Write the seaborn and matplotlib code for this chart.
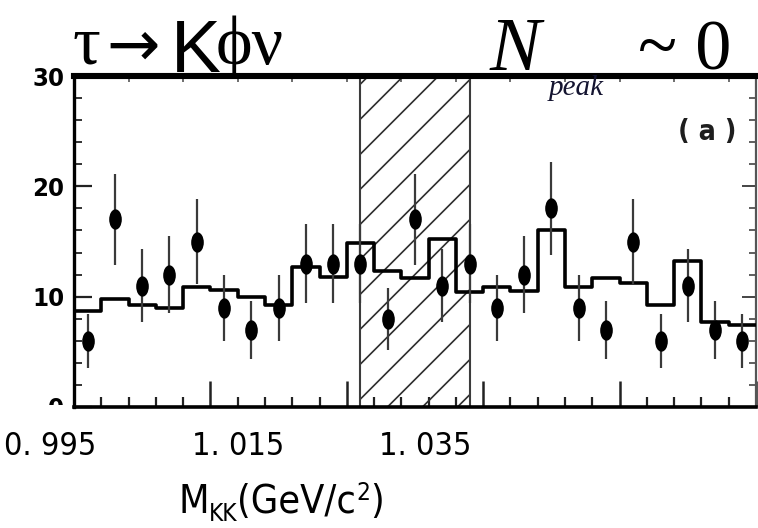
import os
import numpy as np
import pandas as pd
import matplotlib
matplotlib.use("Agg")
import matplotlib.pyplot as plt
import seaborn as sns
from matplotlib import font_manager
from matplotlib.font_manager import FontProperties
from matplotlib.path import Path
from matplotlib.transforms import Affine2D
from matplotlib.patches import Rectangle
from matplotlib.ticker import FixedLocator, NullFormatter

# ---- data -------------------------------------------------------------
# M_KK binning in GeV/c^2
bin_lo = 0.995
bin_width = 0.002
n_bins = 25

# observed candidates per bin
data_counts = [6, 17, 11, 12, 15, 9, 7, 9, 13, 13, 13, 8, 17,
               11, 13, 9, 12, 18, 9, 7, 15, 6, 11, 7, 6]
# expected background per bin
bkg_counts = [8.7, 9.8, 9.2, 9.0, 10.9, 10.6, 10.0, 9.2, 12.7, 11.8, 14.9, 12.3, 11.7,
              15.2, 10.4, 10.9, 10.5, 16.0, 10.9, 11.7, 11.2, 9.2, 13.2, 7.7, 7.4]

# phi signal window
signal_window = (1.016, 1.024)

x_tick_labels = ["0. 995", "1. 015", "1. 035"]
y_tick_values = [0, 10, 20, 30]
y_tick_labels = ["0", "10", "20", "30"]

bin_edges = bin_lo + bin_width * np.arange(n_bins + 1)
bin_centers = 0.5 * (bin_edges[:-1] + bin_edges[1:])
df = pd.DataFrame({"m": bin_centers, "data": data_counts, "bkg": bkg_counts})

# ---- fonts ------------------------------------------------------------
sns.set_style("white")
SERIF = ["Liberation Serif", "DejaVu Serif"]
plt.rcParams["font.family"] = ["Liberation Sans", "DejaVu Sans"]


def narrow_font(bold):
    """Return the file of the narrowest suitable sans face installed, if any."""
    prefs = ["liberation sans narrow", "dejavu sans", "roboto", "noto sans",
             "open sans", "lato", "inter", "liberation sans"]
    best = None
    for f in font_manager.fontManager.ttflist:
        base = os.path.basename(f.fname).lower()
        name = f.name.lower()
        if "mono" in base or "mono" in name or "serif" in name or "cjk" in name:
            continue
        narrowish = ("narrow" in base or "condensed" in base or "narrow" in name
                     or "condensed" in name or f.stretch in ("condensed", "semi-condensed"))
        if not narrowish or "extra" in base or "ultra" in base:
            continue
        try:
            w = int(f.weight)
        except (TypeError, ValueError):
            w = 700 if "bold" in str(f.weight) else 400
        if bold and w != 700:
            continue
        if not bold and w != 400:
            continue
        if f.style != "normal" or "italic" in base or "oblique" in base:
            continue
        fam = next((i for i, p in enumerate(prefs) if name.startswith(p)), len(prefs))
        semi = 1 if "semi" in base or f.stretch == "semi-condensed" else 0
        key = (fam, semi)
        if best is None or key < best[0]:
            best = (key, f.fname)
    return best[1] if best is not None else None


NARROW_REG = narrow_font(False)
NARROW_BOLD = narrow_font(True)


def fp_narrow(size, bold=False):
    path = NARROW_BOLD if bold else NARROW_REG
    if path:
        return FontProperties(fname=path, size=size)
    return FontProperties(family=["Liberation Sans", "DejaVu Sans"], size=size,
                          weight="bold" if bold else "normal")


# ---- figure -----------------------------------------------------------
W, H = 758, 528
fig = plt.figure(figsize=(W / 100, H / 100), dpi=100)
fig.patch.set_facecolor("white")
ax = fig.add_axes([74 / W, 1 - 407 / H, (756 - 74) / W, (407 - 76) / H])
renderer = fig.canvas.get_renderer()

# background expectation histogram
sns.histplot(data=df, x="m", weights="bkg", binwidth=bin_width,
             binrange=(bin_edges[0], bin_edges[-1]), element="step",
             fill=False, color="black", linewidth=2.6, ax=ax, zorder=3)

# data points with Poisson errors
ax.errorbar(df["m"], df["data"], yerr=np.sqrt(df["data"]), fmt="none",
            ecolor="#3a3a3a", elinewidth=1.6, capsize=0, zorder=3)
ellipse = Path.unit_circle().transformed(Affine2D().scale(0.62, 1.0))
sns.scatterplot(data=df, x="m", y="data", marker=ellipse, s=215, color="black",
                edgecolor="black", linewidth=0, ax=ax, zorder=4, legend=False)

ax.set_xlim(bin_edges[0], bin_edges[-1])
ax.set_ylim(0, 30)

# hatched signal window
span = ax.axvspan(*signal_window, facecolor="none", edgecolor="none", zorder=1)
for xv in signal_window:
    ax.axvline(xv, color="#3c3c3c", lw=1.5, zorder=2)
bb = ax.get_position()
px_x = bb.width * W / (bin_edges[-1] - bin_edges[0])
px_y = bb.height * H / 30.0
slope = px_x / px_y            # 45 degrees on screen
step = 35.0 / px_y             # 35 px between hatch lines (vertical)
for y0 in np.arange(26.1 - 20 * step, 31, step):
    ln = ax.axline((signal_window[0], y0), slope=slope, color="#2e2e2e", lw=1.2, zorder=1)
    ln.set_clip_path(span)

ax.set_xlabel("")
ax.set_ylabel("")

# ---- frame and ticks --------------------------------------------------
for side, lw, col in [("top", 4.4, "black"), ("left", 2.4, "black"),
                      ("bottom", 2.6, "black"), ("right", 1.6, "#555555")]:
    ax.spines[side].set_linewidth(lw)
    ax.spines[side].set_color(col)
    ax.spines[side].set_visible(True)

ax.xaxis.set_major_locator(FixedLocator(bin_edges[::5]))
ax.xaxis.set_minor_locator(FixedLocator(bin_edges))
ax.xaxis.set_major_formatter(NullFormatter())
ax.tick_params(axis="x", which="major", direction="in", length=19, width=1.8,
               color="#222222", bottom=True, top=False)
ax.tick_params(axis="x", which="minor", direction="in", length=7.5, width=1.6,
               color="#222222", bottom=True, top=False)

ax.yaxis.set_major_locator(FixedLocator(y_tick_values))
ax.yaxis.set_minor_locator(FixedLocator(np.arange(0, 31, 2)))
ax.set_yticklabels(y_tick_labels)
ax.tick_params(axis="y", which="major", direction="in", length=13, width=1.6,
               color="#222222", left=True, right=False, pad=7)
ax.tick_params(axis="y", which="minor", direction="in", length=6, width=1.4,
               color="#333333", left=True, right=False)

# size the y labels so that "20" is about 32 px wide and at most 23 px tall
probe = fig.text(0, 0, "20", fontproperties=fp_narrow(20, bold=True))
w20 = probe.get_window_extent(renderer).width
probe.remove()
ysize = min(23.0, 20.0 * 32.0 / w20)
for lab in ax.get_yticklabels():
    lab.set_fontproperties(fp_narrow(ysize, bold=True))
    lab.set_color("black")
    lab.set_va("center_baseline")

top = ax.secondary_xaxis("top")
top.set_xticks(bin_edges[::2])
top.xaxis.set_major_formatter(NullFormatter())
top.tick_params(direction="in", length=4, width=1.2, color="#555555")
top.spines["top"].set_visible(False)

right = ax.secondary_yaxis("right")
right.yaxis.set_major_locator(FixedLocator([10, 20]))
right.yaxis.set_minor_locator(FixedLocator(np.arange(0, 31, 2)))
right.yaxis.set_major_formatter(NullFormatter())
right.tick_params(which="major", direction="in", length=10, width=1.4, color="#444444")
right.tick_params(which="minor", direction="in", length=5, width=1.2, color="#444444")
right.spines["right"].set_visible(False)

# white band under the frame
fig.add_artist(Rectangle((0, 0), 71 / W, (H - 405) / H, transform=fig.transFigure,
                         facecolor="white", edgecolor="none", zorder=5))


def ftext(x, y, s, **kw):
    """Place text using pixel coordinates measured from the top-left corner."""
    kw.setdefault("va", "baseline")
    kw.setdefault("zorder", 6)
    return fig.text(x / W, 1 - y / H, s, **kw)


def fitted(x, y, s, width, max_size, bold=False, **kw):
    """Narrow text scaled to span `width` px, never above `max_size` pt."""
    t = ftext(x, y, s, fontproperties=fp_narrow(20, bold), **kw)
    w = t.get_window_extent(renderer).width
    t.set_fontproperties(fp_narrow(min(max_size, 20.0 * width / w), bold))
    return t


def run(x, y, pieces, width, max_size):
    """Lay out (text, scale, raise_px) pieces left to right, fitted to `width`."""
    def build(size):
        arts, cx = [], x
        for s, sc, dy in pieces:
            t = ftext(cx, y - dy * size / max_size, s, fontproperties=fp_narrow(size * sc),
                      color="black")
            cx += t.get_window_extent(renderer).width
            arts.append(t)
        return arts, cx - x
    arts, tw = build(max_size)
    size = min(max_size, max_size * width / tw)
    for a in arts:
        a.remove()
    build(size)


# ---- titles -----------------------------------------------------------
ftext(73, 64, "τ", family=SERIF, fontsize=50, color="black")
ftext(106, 66, "→", family=["DejaVu Sans"], fontsize=46, color="black")
ftext(171, 72, "K", family=["Liberation Sans", "DejaVu Sans"], fontsize=54, color="black")
ftext(216, 64, "ϕν", family=SERIF, fontsize=50, color="black")
ftext(490, 70, "N", family=SERIF, style="italic", fontsize=55, color="black")
ftext(549, 95, "peak", family=SERIF, style="italic", fontsize=21, color="#141430")
ftext(638, 70, "~ 0", family=SERIF, fontsize=52, color="black")
fitted(736, 140, "( a )", 58, 27, bold=True, color="#1e1e1e", ha="right")

# ---- axis annotation --------------------------------------------------
for cx, lab in zip([50, 238, 425], x_tick_labels):
    fitted(cx, 455, lab, 92, 33, ha="center", color="black")
run(178, 513, [("M", 1.0, 0), ("KK", 0.62, -9), ("(GeV/c", 1.0, 0), ("2", 0.62, 15),
               (")", 1.0, 0)], 206, 33)

fig.savefig("out.png", dpi=100)
